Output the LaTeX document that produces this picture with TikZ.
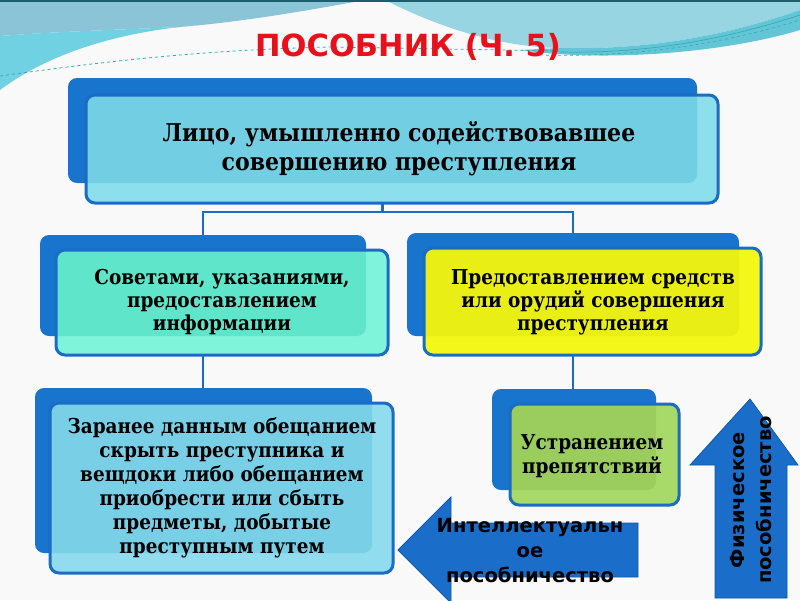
\documentclass[tikz,border=0pt]{standalone}
\usepackage{fontspec}
\setmainfont{DejaVu Serif}[FakeStretch=0.9]
\newfontfamily\dvsans{DejaVu Sans}
\definecolor{bgc}{HTML}{F9F9F9}
\definecolor{waveA}{HTML}{8CC4D7}
\definecolor{waveB}{HTML}{70D1E2}
\definecolor{waveC}{HTML}{96D5E1}
\definecolor{waveD}{HTML}{62C6D6}
\definecolor{waveT}{HTML}{3AA9BA}
\definecolor{topline}{HTML}{1C5E6E}
\definecolor{backc}{HTML}{1874CD}
\definecolor{linec}{HTML}{1A6CC4}
\definecolor{toplight}{HTML}{8DDFED}
\definecolor{topdark}{HTML}{72CFE3}
\definecolor{teallight}{HTML}{80F4DA}
\definecolor{tealdark}{HTML}{5FE6CA}
\definecolor{yellight}{HTML}{F3F71A}
\definecolor{yeldark}{HTML}{E9EE14}
\definecolor{bluelight}{HTML}{92DCEF}
\definecolor{bluedark}{HTML}{79CFE6}
\definecolor{greenlight}{HTML}{A7DA69}
\definecolor{greendark}{HTML}{9ACD5E}
\definecolor{arrowc}{HTML}{1A6EC9}
\definecolor{arrowline}{HTML}{1258A8}
\definecolor{titlec}{HTML}{E8101A}
\begin{document}
\begin{tikzpicture}[x=1pt,y=-1pt,
  backbox/.style={rectangle, rounded corners=9pt, fill=backc, draw=none, inner sep=0pt, outer sep=0pt},
  frontfill/.style={rectangle, rounded corners=9pt, draw=none, inner sep=0pt, outer sep=0pt},
  frontline/.style={draw=linec, line width=3pt, rounded corners=9pt},
  boxtext/.style={align=center, inner sep=0pt, text=black},
  conn/.style={draw=linec, line width=2.5pt},
  bigarrow/.style={fill=arrowc, draw=arrowline, line width=0.8pt, line join=miter},
  arrowtext/.style={align=center, inner sep=0pt, text=black, font=\dvsans\bfseries\fontsize{19.5}{25}\selectfont}
]
\useasboundingbox (0,0) rectangle (800,600);
\clip (0,0) rectangle (800,600);
% background
\fill[bgc] (0,0) rectangle (800,600);
\fill[waveA] (0,0) -- (365,0) .. controls (300,12) and (240,22) .. (180,27) .. controls (110,30) and (50,32) .. (0,36) -- cycle;
\fill[waveB] (0,36) .. controls (50,32) and (110,30) .. (180,27) .. controls (100,36) and (40,60) .. (0,90) -- cycle;
\fill[waveC] (385,0) -- (800,0) -- (800,10) .. controls (720,38) and (640,50) .. (560,48) .. controls (500,47) and (440,28) .. (385,0) -- cycle;
\fill[waveD] (800,10) .. controls (720,38) and (640,50) .. (560,48) -- (520,50) .. controls (600,62) and (720,54) .. (800,30) -- cycle;
\draw[waveT, line width=0.7pt, dashed] (540,55) .. controls (640,58) and (730,42) .. (800,20);
\draw[waveT, line width=0.7pt] (560,52) .. controls (650,54) and (730,38) .. (800,15);
\draw[waveT, line width=0.8pt, dashed] (0,76) .. controls (100,62) and (200,50) .. (330,47) -- (560,51);
\fill[topline] (0,0) rectangle (800,2);
% title
\node[text=titlec, font=\dvsans\bfseries\fontsize{30.5}{36}\selectfont, inner sep=0pt] (title) at (408,47) {ПОСОБНИК (Ч. 5)};
% back boxes
\node[backbox, minimum width=629pt, minimum height=105pt] (topb) at (382.5,130.5) {};
\node[backbox, minimum width=326pt, minimum height=101pt] (mlb) at (203,285.5) {};
\node[backbox, minimum width=332pt, minimum height=103pt] (mrb) at (573,284.5) {};
\node[backbox, minimum width=337pt, minimum height=165pt] (llb) at (203.5,470.5) {};
\node[backbox, minimum width=164pt, minimum height=101pt] (lrb) at (574,439.5) {};
% connectors
\draw[conn] (topb.south) -- ++(0,29) coordinate (split) -| (mlb.north);
\draw[conn] (split) -| (mrb.north);
\draw[conn] (mlb.south) -- (mlb.south |- llb.north);
\draw[conn] (mrb.south) -- (mrb.south |- lrb.north);
% top front
\node[frontfill, fill=toplight, minimum width=632pt, minimum height=108pt] (topf) at (402,149) {};
\begin{scope}
 \clip[rounded corners=9pt] (topf.south west) rectangle (topf.north east);
 \fill[topdark, rounded corners=9pt] (topb.south west) rectangle (topb.north east);
\end{scope}
\draw[frontline] (topf.south west) rectangle (topf.north east);
\node[boxtext, font=\bfseries\fontsize{24.5}{29}\selectfont] (topt) at (399,148.5) {Лицо, умышленно содействовавшее\\совершению преступления};
% middle left
\node[frontfill, fill=teallight, minimum width=332pt, minimum height=105pt] (mlf) at (222,302.5) {};
\begin{scope}
 \clip[rounded corners=9pt] (mlf.south west) rectangle (mlf.north east);
 \fill[tealdark, rounded corners=9pt] (mlb.south west) rectangle (mlb.north east);
\end{scope}
\draw[frontline] (mlf.south west) rectangle (mlf.north east);
\node[boxtext, font=\bfseries\fontsize{20.5}{23}\selectfont] (mlt) at (222,302.5) {Советами, указаниями,\\предоставлением\\информации};
% middle right
\node[frontfill, fill=yellight, minimum width=337pt, minimum height=107pt] (mrf) at (592.5,301.5) {};
\begin{scope}
 \clip[rounded corners=9pt] (mrf.south west) rectangle (mrf.north east);
 \fill[yeldark, rounded corners=9pt] (mrb.south west) rectangle (mrb.north east);
\end{scope}
\draw[frontline] (mrf.south west) rectangle (mrf.north east);
\node[boxtext, font=\bfseries\fontsize{20.5}{23}\selectfont] (mrt) at (593,302) {Предоставлением средств\\или орудий совершения\\преступления};
% lower left
\node[frontfill, fill=bluelight, minimum width=343pt, minimum height=170pt] (llf) at (221.5,488) {};
\begin{scope}
 \clip[rounded corners=9pt] (llf.south west) rectangle (llf.north east);
 \fill[bluedark, rounded corners=9pt] (llb.south west) rectangle (llb.north east);
\end{scope}
\draw[frontline] (llf.south west) rectangle (llf.north east);
\node[boxtext, font=\bfseries\fontsize{20.5}{24}\selectfont] (llt) at (222,488) {Заранее данным обещанием\\скрыть преступника и\\вещдоки либо обещанием\\приобрести или сбыть\\предметы, добытые\\преступным путем};
% lower right
\node[frontfill, fill=greenlight, minimum width=169pt, minimum height=101pt] (lrf) at (594.5,454.5) {};
\begin{scope}
 \clip[rounded corners=9pt] (lrf.south west) rectangle (lrf.north east);
 \fill[greendark, rounded corners=9pt] (lrb.south west) rectangle (lrb.north east);
\end{scope}
\draw[frontline] (lrf.south west) rectangle (lrf.north east);
\node[boxtext, font=\bfseries\fontsize{20.5}{24}\selectfont] (lrt) at (592,456) {Устранением\\препятствий};
% left arrow
\draw[bigarrow] (398,550) -- (451,497) -- (451,523) -- (638,523) -- (638,577) -- (451,577) -- (451,603) -- cycle;
\node[arrowtext] (leftt) at (530,551) {Интеллектуальн\\ое\\пособничество};
% up arrow
\draw[bigarrow] (750,399) -- (798,465) -- (787,465) -- (787,598) -- (715,598) -- (715,465) -- (690,465) -- cycle;
\node[arrowtext, rotate=90, font=\dvsans\bfseries\fontsize{19.5}{27}\selectfont] (upt) at (751,500) {Физическое\\пособничество};
\end{tikzpicture}
\end{document}
